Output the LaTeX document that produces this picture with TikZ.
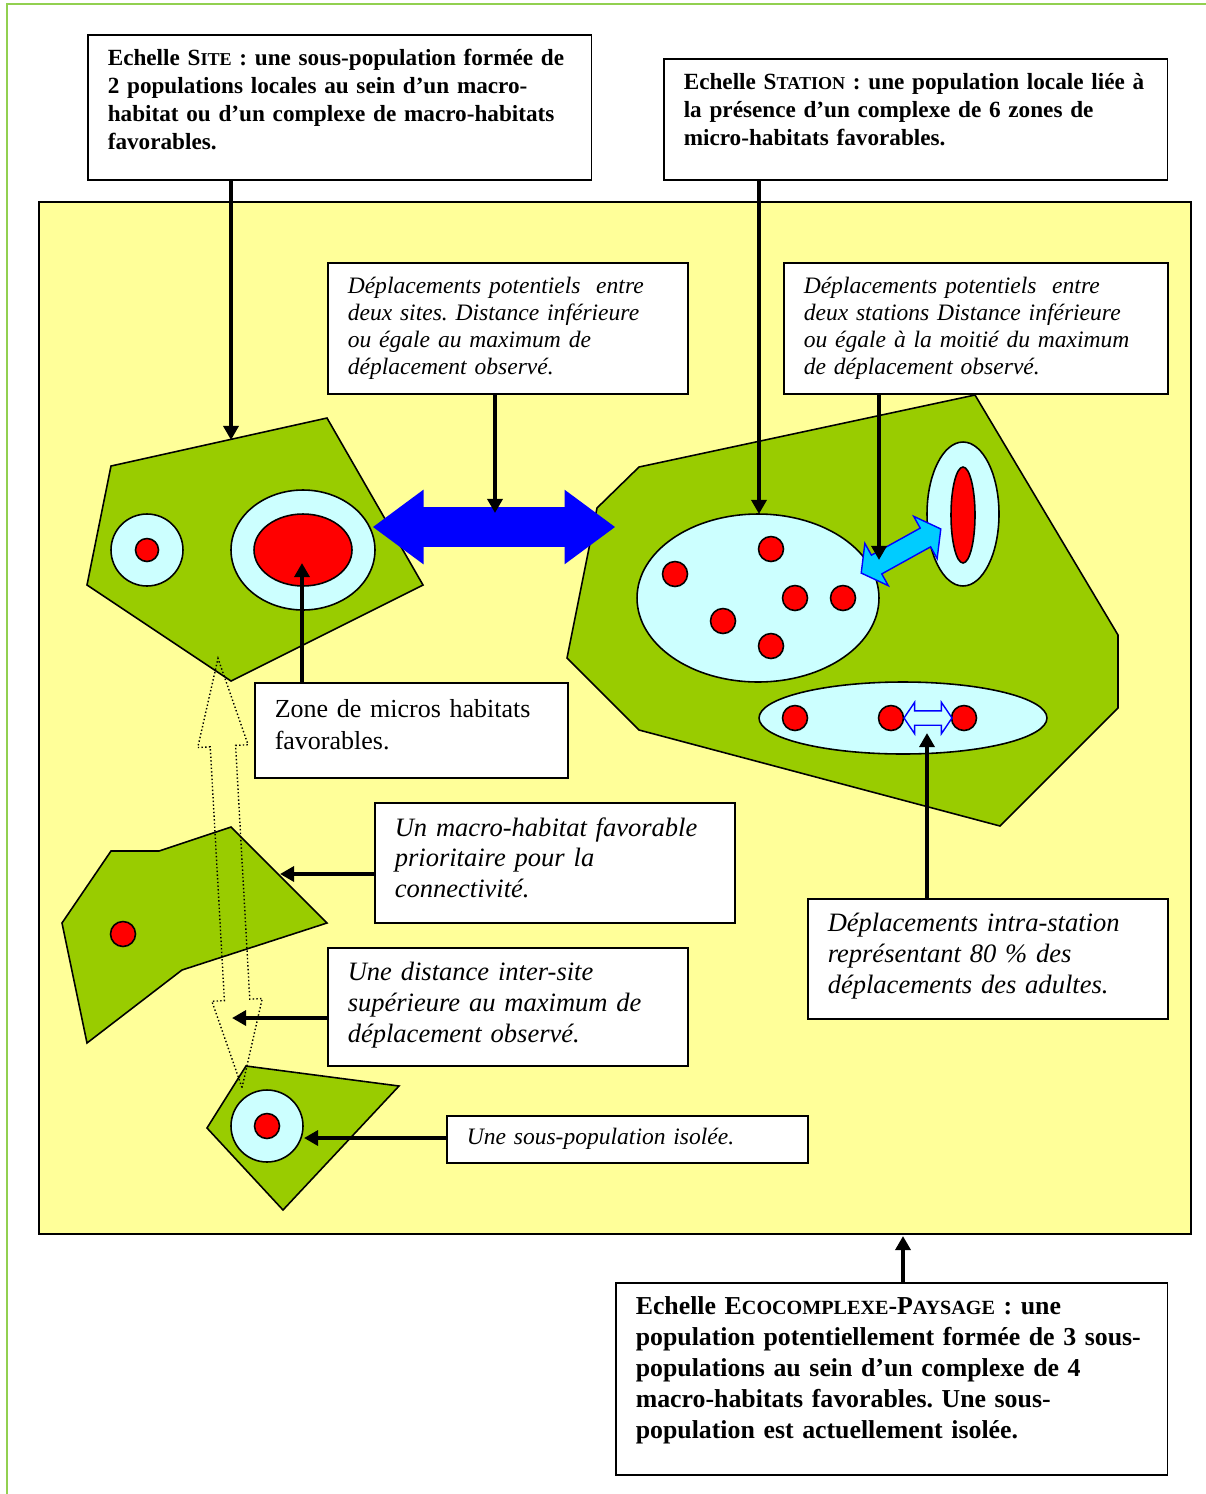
\documentclass[tikz,border=0pt]{standalone}
\usepackage{fontspec}
\setmainfont{Liberation Serif}
\usetikzlibrary{arrows.meta,shapes.arrows}

\definecolor{cadre}{RGB}{146,208,80}
\definecolor{paysage}{RGB}{255,255,153}
\definecolor{habitat}{RGB}{153,204,0}
\definecolor{micro}{RGB}{204,255,255}
\definecolor{turquoise}{RGB}{0,204,255}

\makeatletter
\newcommand{\petitcap}[1]{{\fontsize{\dimexpr0.78\dimexpr\f@size pt\relax\relax}{0pt}\selectfont #1}}
\makeatother
\frenchspacing

\tikzset{
  boite/.style={draw, fill=white, line width=0.9pt, anchor=north west, align=left, inner xsep=0.4cm},
  haut/.style={execute at end node={\par\vspace*{#1}}},
  grasA/.style={font=\fontsize{13.2}{15.9}\selectfont\bfseries},
  grasB/.style={font=\fontsize{14.7}{17.6}\selectfont\bfseries},
  italA/.style={font=\fontsize{13.4}{15.5}\selectfont\itshape},
  italB/.style={font=\fontsize{15.1}{17.6}\selectfont\itshape},
  droit/.style={font=\fontsize{14.8}{18.2}\selectfont},
  macro/.style={draw, fill=habitat, line width=0.9pt},
  zone/.style={draw, fill=micro, line width=0.9pt},
  pop/.style={draw, fill=red, line width=0.9pt},
  lien/.style={line width=2.2pt, -{Triangle[length=8pt,width=8.5pt]}},
}

\begin{document}
\begin{tikzpicture}[x=0.02cm, y=-0.02cm]
\useasboundingbox (0,0) rectangle (1206,1494);
\draw[cadre, line width=1pt] (7,1494) -- (7,4) -- (1206,4);
\draw[fill=paysage, line width=1pt] (39,202) rectangle (1191,1234);

% macro-habitats
\draw[macro] (111,466) -- (327,418) -- (423,585) -- (231,681) -- (87,585) -- cycle;
\draw[macro] (639,467) -- (975,395) -- (1118,635) -- (1118,708) -- (1000,826) -- (639,730) -- (567,658) -- (597,508) -- cycle;
\draw[macro] (111,851) -- (159,851) -- (231,827) -- (327,923) -- (182,970) -- (87,1043) -- (62,923) -- cycle;
\draw[macro] (246,1066) -- (399,1086) -- (283,1210) -- (207,1128) -- cycle;

% micro-habitats
\draw[zone] (147,550) circle (0.72cm);
\draw[pop] (147,550) circle (0.23cm);
\draw[zone] (303,550) ellipse (1.44cm and 1.2cm);
\draw[pop] (303,550) ellipse (0.98cm and 0.72cm);
\draw[zone] (758,598) ellipse (2.42cm and 1.68cm);
\draw[zone] (963,514) ellipse (0.72cm and 1.44cm);
\draw[pop] (963,515) ellipse (0.24cm and 0.96cm);
\draw[zone] (903,718) ellipse (2.88cm and 0.72cm);
\draw[zone] (267,1126) circle (0.72cm);
\draw[pop] (267,1126) circle (0.25cm);
\foreach \p in {(771,549),(675,574),(795,598),(843,598),(723,621),(771,646),(795,718),(891,718),(964,718),(123,934)}
  \draw[pop] \p circle (0.25cm);

% deplacements
\node[double arrow, draw, dash pattern=on 0.8pt off 1.3pt, line width=0.8pt, inner xsep=0, inner ysep=0.24cm, minimum height=8.6cm,
  double arrow head extend=0.25cm, double arrow tip angle=32, rotate=-86.8] (pointil) at (230,873) {};
\node[double arrow, fill=blue, inner xsep=0, inner ysep=0.39cm, minimum height=4.84cm,
  double arrow head extend=0.35cm, double arrow tip angle=73] (bleu) at (494,527) {};
\node[double arrow, draw=blue, fill=turquoise, line width=0.8pt, inner xsep=0, inner ysep=0.2cm, minimum height=1.82cm,
  double arrow head extend=0.27cm, double arrow tip angle=108, rotate=29] (cyan) at (901,551) {};
\node[double arrow, draw=blue, fill=micro, line width=0.8pt, inner xsep=0, inner ysep=0.13cm, minimum height=0.96cm,
  double arrow head extend=0.17cm, double arrow tip angle=112] (petit) at (928,718) {};

% legendes
\node[boite, grasA, haut=9pt, text width=9.28cm, minimum height=2.9cm] (site) at (87,34)
  {Echelle S\petitcap{ITE} : une sous-population formée de\\ 2 populations locales au sein d'un macro-\\habitat ou d'un complexe de macro-habitats\\ favorables.};
\node[boite, grasA, haut=11.4pt, text width=9.28cm, minimum height=2.42cm] (stat) at (663,58)
  {Echelle S\petitcap{TATION} : une population locale liée à\\ la présence d'un complexe de 6 zones de\\ micro-habitats favorables.};
\node[boite, italA, text width=6.4cm, minimum height=2.62cm] (dsite) at (327,262)
  {Déplacements potentiels\ \ entre\\ deux sites. Distance inférieure\\ ou égale au maximum de\\ déplacement observé.};
\node[boite, italA, text width=6.88cm, minimum height=2.62cm] (dstat) at (783,262)
  {Déplacements potentiels\ \ entre\\ deux stations Distance inférieure\\ ou égale à la moitié du maximum\\ de déplacement observé.};
\node[boite, droit, haut=6.8pt, text width=5.46cm, minimum height=1.9cm] (zmh) at (254,682)
  {Zone de micros habitats\\ favorables.};
\node[boite, italB, haut=5.7pt, text width=6.4cm, minimum height=2.4cm] (mprio) at (374,802)
  {Un macro-habitat favorable\\ prioritaire pour la\\ connectivité.};
\node[boite, italB, haut=3.4pt, text width=6.4cm, minimum height=2.4cm] (intra) at (807,898)
  {Déplacements intra-station\\ représentant 80~\% des\\ déplacements des adultes.};
\node[boite, italB, haut=2.3pt, text width=6.4cm, minimum height=2.36cm] (dist) at (327,947)
  {Une distance inter-site\\ supérieure au maximum de\\ déplacement observé.};
\node[boite, italA, text width=6.42cm, minimum height=0.94cm] (isol) at (446,1115)
  {Une sous-population isolée.};
\node[boite, grasB, haut=10pt, text width=10.24cm, minimum height=3.84cm] (eco) at (615,1282)
  {Echelle E\petitcap{COCOMPLEXE}-P\petitcap{AYSAGE} : une\\ population potentiellement formée de 3 sous-\\ populations au sein d'un complexe de 4\\ macro-habitats favorables. Une sous-\\ population est actuellement isolée.};

% fleches
\coordinate (csite) at (231,440);
\coordinate (cstat) at (759,514);
\coordinate (cdsite) at (495,513);
\coordinate (cdstat) at (879,560);
\coordinate (czmh) at (302,563);
\coordinate (cprio) at (280,874);
\coordinate (cdist) at (232,1018);
\coordinate (cisol) at (304,1138);
\coordinate (cintra) at (927,733);
\coordinate (ceco) at (903,1236);
\draw[lien] (site.south -| csite) -- (csite);
\draw[lien] (stat.south -| cstat) -- (cstat);
\draw[lien] (dsite.south -| cdsite) -- (cdsite);
\draw[lien] (dstat.south -| cdstat) -- (cdstat);
\draw[lien] (zmh.north -| czmh) -- (czmh);
\draw[lien] (mprio.west |- cprio) -- (cprio);
\draw[lien] (dist.west |- cdist) -- (cdist);
\draw[lien] (isol.west |- cisol) -- (cisol);
\draw[lien] (intra.north -| cintra) -- (cintra);
\draw[lien] (eco.north -| ceco) -- (ceco);
\end{tikzpicture}
\end{document}
